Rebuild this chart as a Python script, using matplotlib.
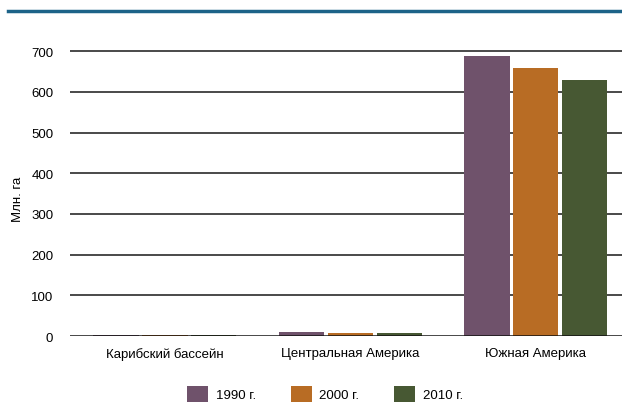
import matplotlib
matplotlib.use("Agg")
import matplotlib.pyplot as plt
from matplotlib.lines import Line2D
from matplotlib.patches import Patch
import numpy as np

plt.rcParams['font.family'] = ['Liberation Sans', 'DejaVu Sans']

categories = ["Карибский бассейн", "Центральная Америка", "Южная Америка"]
series_names = ["1990 г.", "2000 г.", "2010 г."]
v1990 = [3, 9, 688]
v2000 = [3, 8, 658]
v2010 = [3, 7, 629]
colors = ["#6f526b", "#b86c24", "#475833"]
yticks = [0, 100, 200, 300, 400, 500, 600, 700]

fig = plt.figure(figsize=(6.22, 4.06), dpi=100)
ax = fig.add_axes([70/622, 1-337/406, 1-70/622, (337-44)/406])

x = np.arange(len(categories))
w = 0.243
off = 0.264
for i, (vals, c, name) in enumerate(zip([v1990, v2000, v2010], colors, series_names)):
    ax.bar(x + (i-1)*off, vals, width=w, color=c, label=name, zorder=3)

ax.set_xlim(-0.512, 2.464)
ax.set_ylim(0, 720)
ax.set_yticks(yticks)
ax.set_yticklabels([str(t) for t in yticks], fontsize=9.5)
ax.set_xticks(x)
ax.set_xticklabels(categories, fontsize=9.5)
ax.tick_params(axis='both', length=0)
ax.tick_params(axis='y', pad=12)
ax.tick_params(axis='x', pad=8)
for t in yticks[1:]:
    ax.axhline(t, color='#3c3c3c', lw=1.3, zorder=1)
ax.axhline(0, color='#111111', lw=1.8, zorder=4)
for s in ax.spines.values():
    s.set_visible(False)
ax.set_ylabel("Млн. га", fontsize=9.5, va='center', ha='center')
ax.yaxis.set_label_coords((18-70)/552, (337-199)/293)

fig.add_artist(Line2D([8/622, 1], [1-12/406, 1-12/406], color='#1d6388', lw=2.5))

handles = [Patch(facecolor=c, edgecolor='none') for c in colors]
leg = fig.legend(handles, series_names, loc='center', bbox_to_anchor=(325/622, 1-395/406),
                 ncol=3, frameon=False, fontsize=9.5, handlelength=1.6, handleheight=1.5,
                 columnspacing=2.65, handletextpad=0.55, borderpad=0, borderaxespad=0)

fig.savefig("out.png", dpi=100)
